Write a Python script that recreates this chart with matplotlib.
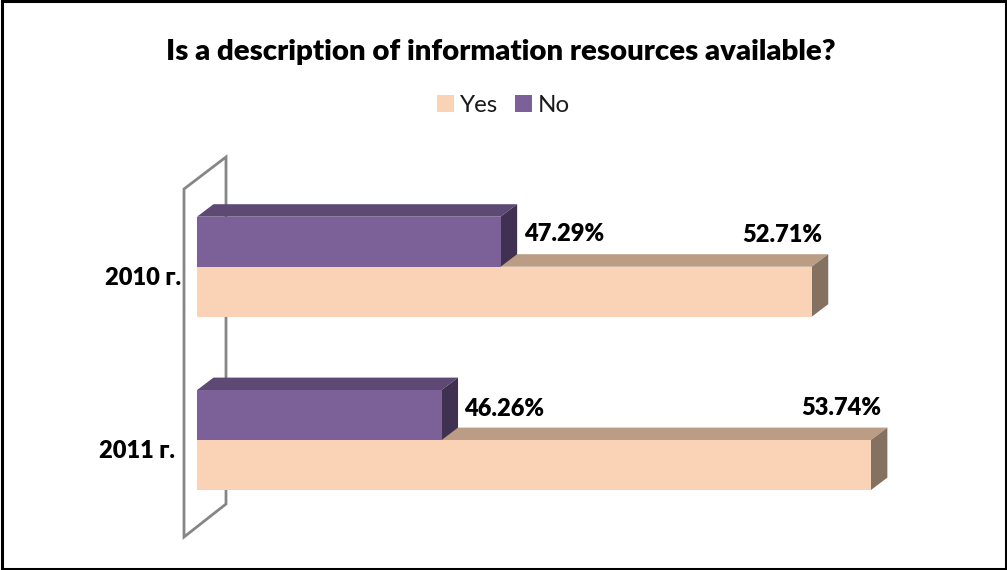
import numpy as np
import matplotlib.pyplot as plt
from matplotlib.patches import Polygon, Rectangle
from matplotlib.transforms import ScaledTranslation

plt.rcParams['font.family'] = ['Lato', 'Open Sans', 'DejaVu Sans']

# data
categories = ['2010 г.', '2011 г.']
yes_values = [52.71, 53.74]
no_values = [47.29, 46.26]
axis_min = 42.0

W, H = 1007, 570
PEACH = '#FAD2B5'
PEACH_TOP = '#BA9D84'
PEACH_SIDE = '#857160'
PURPLE = '#7C6199'
PURPLE_TOP = '#5E4975'
PURPLE_SIDE = '#403152'

fig = plt.figure(figsize=(W / 100, H / 100), dpi=100, facecolor='white')

# pixel layer for frame and the 3d wall
bg = fig.add_axes([0, 0, 1, 1])
bg.set_xlim(0, W)
bg.set_ylim(H, 0)
bg.axis('off')
bg.add_patch(Rectangle((1.5, 0.5), W - 3, H - 2, fill=False, ec='black', lw=2.2))
bg.add_patch(Polygon([(184, 189), (226, 157), (226, 504), (184, 537)], closed=True,
                     fill=False, ec='#868686', lw=2, joinstyle='miter'))

# plot area: 42 -> x=197, 57.4 px per percent, bands 173.4 px high
left, right = 197, 197 + (max(yes_values) - axis_min) * 57.4
top, bottom = 180, 526.8
ax = fig.add_axes([left / W, 1 - bottom / H, (right - left) / W, (bottom - top) / H])
ax.patch.set_alpha(0)
ax.set_xlim(axis_min, max(yes_values))
ax.set_ylim(1.5, -0.5)
for s in ax.spines.values():
    s.set_visible(False)
ax.set_xticks([])

bar_h = 50 / 173.4
dx = 16.5 / 57.4
dy = 12.5 / 173.4
y_pos = np.arange(len(categories))


def depth_faces(y, h, value, c_top, c_side, z):
    # top and right faces of a flat 3d bar
    ax.add_patch(Polygon([(axis_min, y - h / 2), (axis_min + dx, y - h / 2 - dy),
                          (value + dx, y - h / 2 - dy), (value, y - h / 2)],
                         fc=c_top, ec='none', clip_on=False, zorder=z))
    ax.add_patch(Polygon([(value, y - h / 2), (value + dx, y - h / 2 - dy),
                          (value + dx, y + h / 2 - dy), (value, y + h / 2)],
                         fc=c_side, ec='none', clip_on=False, zorder=z))


yes_y = y_pos + bar_h / 2
no_y = y_pos - bar_h / 2
ax.barh(yes_y, np.array(yes_values) - axis_min, bar_h, left=axis_min, color=PEACH,
        label='Yes', zorder=3)
ax.barh(no_y, np.array(no_values) - axis_min, bar_h, left=axis_min, color=PURPLE,
        label='No', zorder=5)
for i in range(len(categories)):
    depth_faces(yes_y[i], bar_h, yes_values[i], PEACH_TOP, PEACH_SIDE, 2)
    depth_faces(no_y[i], bar_h, no_values[i], PURPLE_TOP, PURPLE_SIDE, 4)

# value labels
no_shift = [-35, -33]
for i in range(len(categories)):
    ax.annotate(f'{yes_values[i]:.2f}%', (yes_values[i], y_pos[i]), xytext=(10, 32),
                textcoords='offset pixels', ha='right', va='center', fontsize=17,
                fontweight='heavy', color='black', zorder=6, annotation_clip=False)
    ax.annotate(f'{no_values[i]:.2f}%', (no_values[i], y_pos[i]), xytext=(23, -no_shift[i] - 2),
                textcoords='offset pixels', ha='left', va='center', fontsize=17,
                fontweight='heavy', color='black', zorder=6, annotation_clip=False)

# category labels, moved by hand because of the slanted wall
ax.set_yticks(y_pos, categories, fontsize=17, fontweight='heavy')
ax.tick_params(axis='y', length=0, pad=0)
for lab, shift in zip(ax.get_yticklabels(), [16, 22]):
    lab.set_transform(lab.get_transform() + ScaledTranslation(-shift / 100, -9 / 100, fig.dpi_scale_trans))

fig.text(500.5 / W, 1 - 52 / H, 'Is a description of information resources available?',
         ha='center', va='center', fontsize=21.2, fontweight='heavy', color='black')

handles, labels = ax.get_legend_handles_labels()
fig.legend(handles, labels, loc='center', bbox_to_anchor=(503.5 / W, 1 - 105 / H), ncol=2,
           frameon=False, fontsize=17.4, handlelength=0.7, handleheight=0.7,
           handletextpad=0.25, columnspacing=0.7, labelcolor='#1a1a1a')

fig.savefig('out.png', dpi=100)
